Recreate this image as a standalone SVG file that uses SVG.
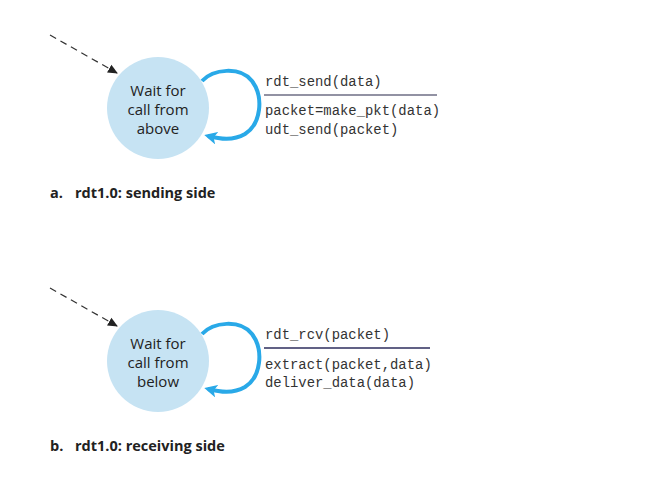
<svg xmlns="http://www.w3.org/2000/svg" width="667" height="493" viewBox="0 0 667 493">
<style>
.state{fill:#c6e3f3}
.st{font-family:"Open Sans","Noto Sans",sans-serif;font-size:15px;fill:#222;text-anchor:middle}
.code{font-family:"Liberation Mono",monospace;font-size:13.9px;fill:#333}
.cap{font-family:"Open Sans","Noto Sans",sans-serif;font-size:14.5px;font-weight:bold;fill:#222}
.dash{stroke:#333;stroke-width:1.2;stroke-dasharray:7 5;fill:none}
.loop{stroke:#29a9e8;stroke-width:4;fill:none}
</style>
<defs>
<marker id="ah" viewBox="0 0 10 10" refX="9" refY="5" markerWidth="10" markerHeight="10" markerUnits="userSpaceOnUse" orient="auto"><path d="M0 0.5L10 5L0 9.5z" fill="#222"/></marker>
<marker id="bh" viewBox="0 0 10 10" refX="7" refY="5" markerWidth="3.2" markerHeight="3.2" orient="auto"><path d="M0 0L10 5L0 10L2.5 5z" fill="#29a9e8"/></marker>
</defs>
<rect width="667" height="493" fill="#fff"/>
<g id="connectors">
<path class="dash" d="M50 35L117 73" marker-end="url(#ah)"/>
<path class="loop" d="M202 81C213 69 240 66 252 81C264 97 261 124 245 134C233 141 220 139 208 136" marker-end="url(#bh)"/>
<path class="dash" d="M50 288L117 326" marker-end="url(#ah)"/>
<path class="loop" d="M202 334C213 322 240 319 252 334C264 350 261 377 245 387C233 394 220 392 208 389" marker-end="url(#bh)"/>
</g>
<g id="sender">
<circle class="state" cx="158" cy="108" r="51"/>
<text class="st" x="158" y="96">Wait for</text>
<text class="st" x="158" y="115">call from</text>
<text class="st" x="158" y="134">above</text>
</g>
<g id="sender-label">
<text class="code" x="265" y="86">rdt_send(data)</text>
<line x1="264" y1="95" x2="437" y2="95" stroke="#6e6e84" stroke-width="1.3"/>
<text class="code" x="265" y="115">packet=make_pkt(data)</text>
<text class="code" x="265" y="134">udt_send(packet)</text>
<text class="cap" y="198"><tspan x="50">a.</tspan><tspan x="75">rdt1.0: sending side</tspan></text>
</g>
<g id="receiver">
<circle class="state" cx="158" cy="361" r="51"/>
<text class="st" x="158" y="349">Wait for</text>
<text class="st" x="158" y="368">call from</text>
<text class="st" x="158" y="387">below</text>
</g>
<g id="receiver-label">
<text class="code" x="265" y="339">rdt_rcv(packet)</text>
<line x1="264" y1="348" x2="430" y2="348" stroke="#2c2c5c" stroke-width="1.3"/>
<text class="code" x="265" y="369">extract(packet,data)</text>
<text class="code" x="265" y="387">deliver_data(data)</text>
<text class="cap" y="451"><tspan x="50">b.</tspan><tspan x="75">rdt1.0: receiving side</tspan></text>
</g>
</svg>
